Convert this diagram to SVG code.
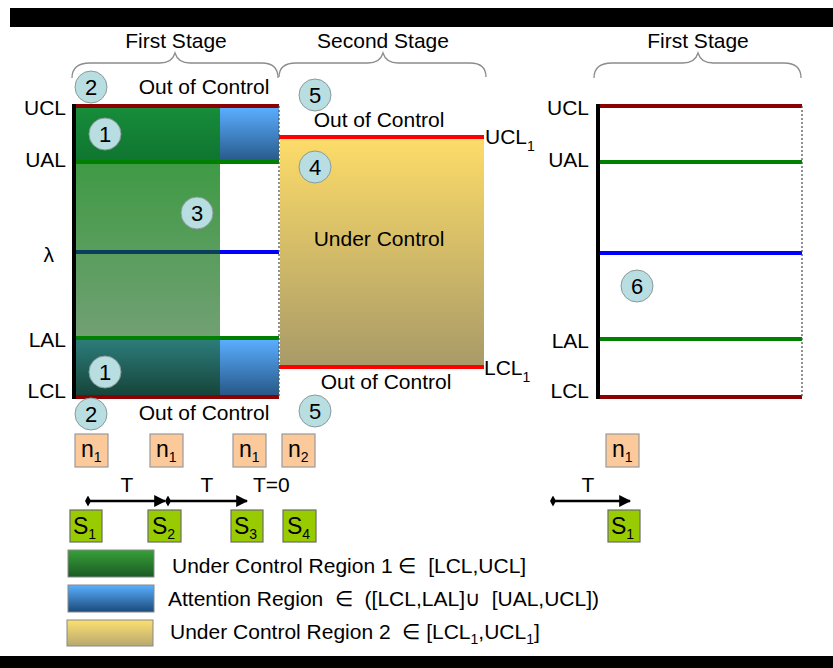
<svg xmlns="http://www.w3.org/2000/svg" width="833" height="668" viewBox="0 0 833 668">
<style>
text{font-family:"Liberation Sans",Arial,sans-serif;fill:#000;}
.t{font-size:21px;}
.lbl{font-size:21px;text-anchor:end;}
.mid{text-anchor:middle;}
.num{font-size:22px;text-anchor:middle;}
.circ{fill:#b8dee1;stroke:#8a9a9a;stroke-width:1;}
.brace{fill:none;stroke:#8c8c8c;stroke-width:1.3;}
.nbox{fill:#fcc99b;stroke:#9a9a9a;stroke-width:1.2;}
.sbox{fill:#99cc00;stroke:#6b6b6b;stroke-width:1.2;}
.bx{font-size:23px;}
.sub{font-size:14px;}
.dred{stroke:#8b0000;stroke-width:4;}
.grn{stroke:#008000;stroke-width:4;}
.blu{stroke:#0000ff;stroke-width:4;}
.red{stroke:#ff0000;stroke-width:4;}
.dot{stroke:#555;stroke-width:1.3;stroke-dasharray:2 2;}
.arrow{stroke:#000;stroke-width:2.5;fill:none;}
</style>
<defs>
<linearGradient id="gDark" x1="0" y1="0" x2="0" y2="1"><stop offset="0" stop-color="#178c3a"/><stop offset="1" stop-color="#0f7430"/></linearGradient>
<linearGradient id="gLight" x1="0" y1="0" x2="0" y2="1"><stop offset="0" stop-color="#3f9a45"/><stop offset="1" stop-color="#72a074"/></linearGradient>
<linearGradient id="gBlue" x1="0" y1="0" x2="0" y2="1"><stop offset="0" stop-color="#5aadff"/><stop offset="1" stop-color="#275888"/></linearGradient>
<linearGradient id="gTeal" x1="0" y1="0" x2="0" y2="1"><stop offset="0" stop-color="#2c7c7a"/><stop offset="1" stop-color="#16453a"/></linearGradient>
<linearGradient id="gYel" x1="0" y1="0" x2="0" y2="1"><stop offset="0" stop-color="#fddc68"/><stop offset="1" stop-color="#a89a68"/></linearGradient>
<linearGradient id="lgG" x1="0" y1="0" x2="0" y2="1"><stop offset="0" stop-color="#37a037"/><stop offset="1" stop-color="#1b5a25"/></linearGradient>
<linearGradient id="lgB" x1="0" y1="0" x2="0" y2="1"><stop offset="0" stop-color="#5ab0ff"/><stop offset="1" stop-color="#1b4a7a"/></linearGradient>
<linearGradient id="lgY" x1="0" y1="0" x2="0" y2="1"><stop offset="0" stop-color="#fde070"/><stop offset="1" stop-color="#b8a870"/></linearGradient>
<marker id="ah" viewBox="0 0 10 10" refX="9" refY="5" markerWidth="12" markerHeight="12" orient="auto" markerUnits="userSpaceOnUse"><path d="M0,0 L10,5 L0,10 z" fill="#000"/></marker>
<marker id="dm" viewBox="0 0 10 10" refX="5" refY="5" markerWidth="6" markerHeight="11" orient="auto" markerUnits="userSpaceOnUse" preserveAspectRatio="none"><path d="M5,0 L10,5 L5,10 L0,5 z" fill="#000"/></marker>
</defs>

<!-- frame bars -->
<rect x="10" y="8" width="823" height="19" fill="#000"/>
<rect x="0" y="656" width="833" height="12" fill="#000"/>

<!-- braces -->
<g id="braces">
<path class="brace" d="M72,78 Q72,63 90,63 L160,63 Q172,63 175,53 Q178,63 190,63 L262,63 Q278,63 278,78"/>
<path class="brace" d="M279,77 Q279,63 296,63 L368,63 Q380,63 383,53 Q386,63 398,63 L470,63 Q486,63 486,77"/>
<path class="brace" d="M594,78 Q594,63 612,63 L683,63 Q695,63 698,53 Q701,63 713,63 L784,63 Q801,63 801,78"/>
<text class="t mid" x="176" y="48">First Stage</text>
<text class="t mid" x="383" y="48">Second Stage</text>
<text class="t mid" x="698" y="48">First Stage</text>
</g>

<!-- left chart -->
<g id="stage1">
<rect x="76" y="108" width="144" height="55" fill="url(#gDark)"/>
<rect x="220" y="108" width="59" height="54" fill="url(#gBlue)"/>
<rect x="76" y="163" width="144" height="176" fill="url(#gLight)"/>
<rect x="220" y="340" width="59" height="55" fill="url(#gBlue)"/>
<rect x="76" y="340" width="144" height="55" fill="url(#gTeal)"/>
<line class="dred" x1="74" y1="106" x2="279" y2="106"/>
<line class="grn" x1="74" y1="162" x2="279" y2="162"/>
<line x1="74" y1="252" x2="220" y2="252" stroke="#0b3d5c" stroke-width="4"/>
<line class="blu" x1="220" y1="252" x2="279" y2="252"/>
<line class="grn" x1="74" y1="338" x2="279" y2="338"/>
<line class="dred" x1="74" y1="397" x2="279" y2="397"/>
<line x1="74" y1="104" x2="74" y2="399" stroke="#000" stroke-width="4"/>
<line class="dot" x1="279" y1="106" x2="279" y2="397"/>
<text class="lbl" x="66" y="115">UCL</text>
<text class="lbl" x="66" y="167">UAL</text>
<text class="lbl" x="54" y="262">λ</text>
<text class="lbl" x="66" y="347">LAL</text>
<text class="lbl" x="66" y="398">LCL</text>
<text class="t mid" x="204" y="94">Out of Control</text>
<text class="t mid" x="204" y="420">Out of Control</text>
</g>

<!-- second stage -->
<g id="stage2">
<rect x="280" y="138" width="204" height="229" fill="url(#gYel)"/>
<line class="red" x1="279" y1="137" x2="484" y2="137"/>
<line class="red" x1="279" y1="367" x2="484" y2="367"/>
<text class="t" x="485" y="144">UCL<tspan class="sub" dy="7">1</tspan></text>
<text class="t" x="484" y="375">LCL<tspan class="sub" dy="7">1</tspan></text>
<text class="t mid" x="379" y="127">Out of Control</text>
<text class="t mid" x="379" y="246">Under Control</text>
<text class="t mid" x="386" y="389">Out of Control</text>
</g>

<!-- right chart -->
<g id="stage1b">
<line class="dred" x1="598" y1="106" x2="802" y2="106"/>
<line class="grn" x1="598" y1="162" x2="802" y2="162"/>
<line class="blu" x1="596" y1="253" x2="802" y2="253"/>
<line class="grn" x1="598" y1="339" x2="802" y2="339"/>
<line class="dred" x1="598" y1="397" x2="802" y2="397"/>
<line x1="598" y1="104" x2="598" y2="399" stroke="#000" stroke-width="4"/>
<line class="dot" x1="802" y1="106" x2="802" y2="397"/>
<text class="lbl" x="589" y="115">UCL</text>
<text class="lbl" x="589" y="167">UAL</text>
<text class="lbl" x="589" y="348">LAL</text>
<text class="lbl" x="589" y="398">LCL</text>
</g>

<!-- numbered circles -->
<g id="c2a"><circle class="circ" cx="91" cy="87" r="16"/><text class="num" x="91" y="95">2</text></g>
<g id="c1a"><circle class="circ" cx="105" cy="134" r="16"/><text class="num" x="105" y="142">1</text></g>
<g id="c3"><circle class="circ" cx="197" cy="213" r="16"/><text class="num" x="197" y="221">3</text></g>
<g id="c1b"><circle class="circ" cx="105" cy="372" r="16"/><text class="num" x="105" y="380">1</text></g>
<g id="c2b"><circle class="circ" cx="91" cy="414" r="16"/><text class="num" x="91" y="422">2</text></g>
<g id="c5a"><circle class="circ" cx="315" cy="95" r="16"/><text class="num" x="315" y="103">5</text></g>
<g id="c4"><circle class="circ" cx="315" cy="167" r="16"/><text class="num" x="315" y="175">4</text></g>
<g id="c5b"><circle class="circ" cx="315" cy="411" r="16"/><text class="num" x="315" y="419">5</text></g>
<g id="c6"><circle class="circ" cx="637" cy="286" r="16"/><text class="num" x="637" y="294">6</text></g>

<!-- n boxes -->
<g id="n1a"><rect class="nbox" x="75" y="434" width="33" height="33"/><text class="bx" x="81" y="457">n<tspan class="sub" dy="5">1</tspan></text></g>
<g id="n1b"><rect class="nbox" x="150" y="434" width="33" height="33"/><text class="bx" x="156" y="457">n<tspan class="sub" dy="5">1</tspan></text></g>
<g id="n1c"><rect class="nbox" x="233" y="434" width="33" height="33"/><text class="bx" x="239" y="457">n<tspan class="sub" dy="5">1</tspan></text></g>
<g id="n2"><rect class="nbox" x="282" y="434" width="33" height="33"/><text class="bx" x="288" y="457">n<tspan class="sub" dy="5">2</tspan></text></g>
<g id="n1d"><rect class="nbox" x="606" y="434" width="33" height="33"/><text class="bx" x="612" y="457">n<tspan class="sub" dy="5">1</tspan></text></g>

<!-- S boxes -->
<g id="s1"><rect class="sbox" x="70" y="510" width="32" height="32"/><text class="bx" x="73" y="534">S<tspan class="sub" dy="5">1</tspan></text></g>
<g id="s2"><rect class="sbox" x="148" y="510" width="33" height="32"/><text class="bx" x="152" y="534">S<tspan class="sub" dy="5">2</tspan></text></g>
<g id="s3"><rect class="sbox" x="231" y="510" width="32" height="32"/><text class="bx" x="234" y="534">S<tspan class="sub" dy="5">3</tspan></text></g>
<g id="s4"><rect class="sbox" x="283" y="510" width="33" height="32"/><text class="bx" x="287" y="534">S<tspan class="sub" dy="5">4</tspan></text></g>
<g id="s1b"><rect class="sbox" x="608" y="510" width="32" height="32"/><text class="bx" x="611" y="534">S<tspan class="sub" dy="5">1</tspan></text></g>

<!-- connectors -->
<g id="connectors">
<line class="arrow" x1="88" y1="501" x2="165" y2="501" marker-start="url(#dm)" marker-end="url(#ah)"/>
<line class="arrow" x1="168" y1="501" x2="247" y2="501" marker-start="url(#dm)" marker-end="url(#ah)"/>
<line class="arrow" x1="553" y1="501" x2="630" y2="501" marker-start="url(#dm)" marker-end="url(#ah)"/>
<text class="t mid" x="127" y="492">T</text>
<text class="t mid" x="207" y="492">T</text>
<text class="t" x="253" y="492">T=0</text>
<text class="t mid" x="588" y="492">T</text>
</g>

<!-- legend -->
<g id="legend">
<rect x="68" y="550" width="86" height="27" fill="url(#lgG)" stroke="#888"/>
<rect x="68" y="585" width="86" height="27" fill="url(#lgB)" stroke="#888"/>
<rect x="67" y="620" width="86" height="26" fill="url(#lgY)" stroke="#888"/>
<text class="t" x="172" y="573">Under Control Region 1 ∈&#160; [LCL,UCL]</text>
<text class="t" x="168" y="606">Attention Region&#160; ∈&#160; ([LCL,LAL]∪&#160; [UAL,UCL])</text>
<text class="t" x="170" y="639">Under Control Region 2&#160; ∈ [LCL<tspan class="sub" dy="5">1</tspan><tspan dy="-5">,UCL</tspan><tspan class="sub" dy="5">1</tspan><tspan dy="-5">]</tspan></text>
</g>
</svg>
